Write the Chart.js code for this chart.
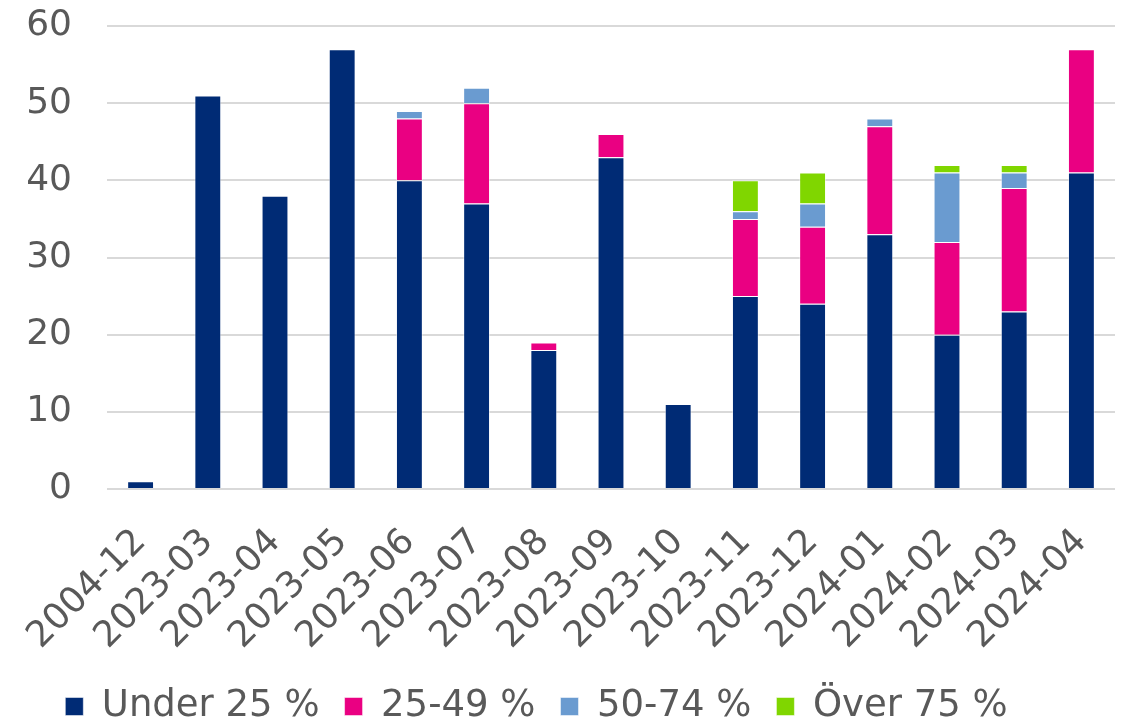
<!DOCTYPE html>
<html>
<head>
<meta charset="utf-8">
<script src="https://cdn.jsdelivr.net/npm/chart.js@4"></script>
<style>
  html, body { margin: 0; padding: 0; background: #fff; }
  #wrap { width: 1125px; height: 726px; position: relative; }
</style>
</head>
<body>
<div id="wrap"><canvas id="chart"></canvas></div>
<script>
const months = ['2004-12', '2023-03', '2023-04', '2023-05', '2023-06', '2023-07', '2023-08', '2023-09',
  '2023-10', '2023-11', '2023-12', '2024-01', '2024-02', '2024-03', '2024-04'];

const under25 = [1, 51, 38, 57, 40, 37, 18, 43, 11, 25, 24, 33, 20, 23, 41];
const from25to49 = [0, 0, 0, 0, 8, 13, 1, 3, 0, 10, 10, 14, 12, 16, 16];
const from50to74 = [0, 0, 0, 0, 1, 2, 0, 0, 0, 1, 3, 1, 9, 2, 0];
const over75 = [0, 0, 0, 0, 0, 0, 0, 0, 0, 4, 4, 0, 1, 1, 0];

const seriesNames = ['Under 25 %', '25-49 %', '50-74 %', 'Över 75 %'];
const seriesColors = ['#002b75', '#ea0082', '#6a9bd0', '#80d600'];

const textColor = '#595959';
const font = 'DejaVu Sans';

const datasets = [under25, from25to49, from50to74, over75].map((d, i) => ({
  label: seriesNames[i],
  data: d,
  backgroundColor: seriesColors[i],
  borderColor: 'rgba(255,255,255,0.5)',
  borderWidth: 1,
  categoryPercentage: 0.8,
  barPercentage: 0.5
}));

// the legend in the original sits a bit left of centre
const legendShift = {
  id: 'legendShift',
  afterLayout(chart) {
    chart.legend.left -= 34;
    chart.legend.right -= 34;
  }
};

new Chart(document.getElementById('chart'), {
  type: 'bar',
  data: { labels: months, datasets },
  plugins: [legendShift],
  options: {
    responsive: true,
    maintainAspectRatio: false,
    animation: false,
    layout: { padding: { top: 0, right: 10, left: 26, bottom: -9 } },
    plugins: {
      tooltip: { enabled: false },
      legend: {
        position: 'bottom',
        labels: {
          color: textColor,
          font: { family: font, size: 37 },
          boxWidth: 18,
          boxHeight: 18,
          padding: 25
        }
      }
    },
    scales: {
      x: {
        stacked: true,
        grid: { display: false },
        border: { display: false },
        afterFit: s => { s.height = 174; s.paddingLeft = 0; s.paddingRight = 0; },
        ticks: {
          color: textColor,
          font: { family: font, size: 36 },
          maxRotation: 45,
          minRotation: 45,
          autoSkip: false,
          padding: 24
        }
      },
      y: {
        stacked: true,
        min: 0,
        max: 60,
        grid: { color: '#d9d9d9', lineWidth: 2, drawTicks: false },
        border: { display: false },
        afterFit: s => { s.width = 81; s.paddingTop = 26; },
        ticks: {
          stepSize: 10,
          color: textColor,
          font: { family: font, size: 36 },
          padding: 35
        }
      }
    }
  }
});
</script>
</body>
</html>
